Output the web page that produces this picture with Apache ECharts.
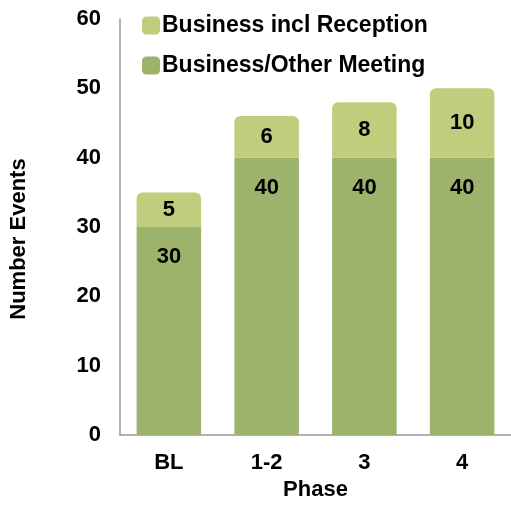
<!DOCTYPE html>
<html>
<head>
<meta charset="utf-8">
<script src="https://cdn.jsdelivr.net/npm/echarts@6/dist/echarts.min.js"></script>
<style>
html,body{margin:0;padding:0;background:#fff;}
#c{width:511px;height:506px;}
</style>
</head>
<body>
<div id="c"></div>
<script>
var categories = ['BL', '1-2', '3', '4'];
var meetingValues = [30, 40, 40, 40];
var receptionValues = [5, 6, 8, 10];
var seriesNames = ['Business incl Reception', 'Business/Other Meeting'];

var FONT = '"Liberation Sans", Arial, Helvetica, sans-serif';
var chart = echarts.init(document.getElementById('c'), null, {renderer: 'canvas'});
chart.setOption({
  animation: false,
  backgroundColor: '#ffffff',
  legend: {
    orient: 'vertical',
    left: 142,
    top: 14,
    padding: 0,
    itemWidth: 18,
    itemHeight: 18,
    itemGap: 17,
    icon: 'roundRect',
    data: [seriesNames[0], seriesNames[1]],
    textStyle: {fontFamily: FONT, fontWeight: 'bold', fontSize: 23, color: '#000', padding: [0, 0, 0, -3]}
  },
  grid: {left: 119, right: -3, top: 19, bottom: 68.5, containLabel: false},
  xAxis: {
    type: 'category',
    data: categories,
    name: 'Phase',
    nameLocation: 'middle',
    nameGap: 43,
    nameTextStyle: {fontFamily: FONT, fontWeight: 'bold', fontSize: 22, color: '#000'},
    axisLine: {lineStyle: {color: '#999', width: 1.5}},
    axisTick: {show: false},
    axisLabel: {fontFamily: FONT, fontWeight: 'bold', fontSize: 22, color: '#000', margin: 17}
  },
  yAxis: {
    type: 'value',
    min: 0, max: 60, interval: 10,
    name: 'Number Events',
    nameLocation: 'middle',
    nameGap: 90,
    nameTextStyle: {fontFamily: FONT, fontWeight: 'bold', fontSize: 22, color: '#000', padding: [0, 24, 0, 0]},
    axisLine: {show: true, lineStyle: {color: '#999', width: 1.5}},
    axisTick: {show: false},
    splitLine: {show: false},
    axisLabel: {fontFamily: FONT, fontWeight: 'bold', fontSize: 22, color: '#000', margin: 19}
  },
  series: [
    {
      name: seriesNames[1],
      type: 'bar',
      stack: 'total',
      barCategoryGap: '34%',
      data: meetingValues,
      itemStyle: {color: '#9db36b'},
      label: {show: true, position: 'insideTop', distance: 19, fontFamily: FONT, fontWeight: 'bold', fontSize: 22, color: '#000'}
    },
    {
      name: seriesNames[0],
      type: 'bar',
      stack: 'total',
      barCategoryGap: '34%',
      data: receptionValues,
      itemStyle: {color: '#bfcd7d', borderRadius: [6, 6, 0, 0]},
      label: {show: true, position: 'inside', fontFamily: FONT, fontWeight: 'bold', fontSize: 22, color: '#000'}
    }
  ]
});
</script>
</body>
</html>
